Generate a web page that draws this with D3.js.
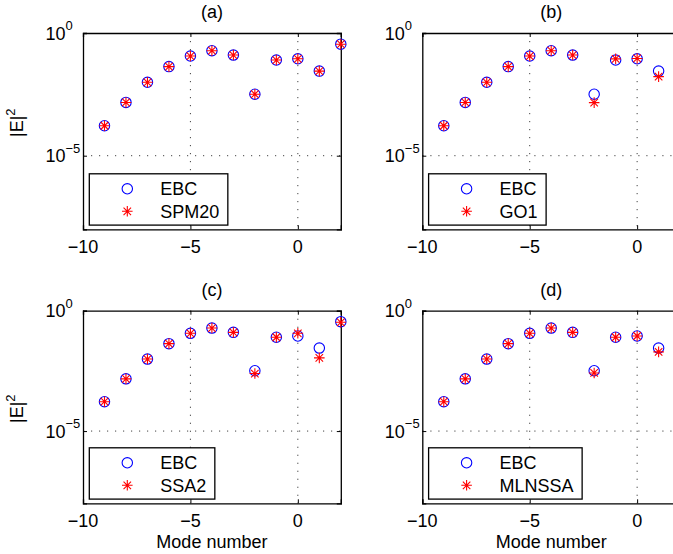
<!DOCTYPE html>
<html>
<head>
<meta charset="utf-8">
<script src="https://cdn.jsdelivr.net/npm/d3@7"></script>
<style>
  html, body { margin: 0; padding: 0; background: #fff; }
  svg { display: block; font-family: "Liberation Sans", Arial, Helvetica, sans-serif; }
</style>
</head>
<body>
<svg id="chart" width="673" height="554"></svg>
<script>
// ---- data ----
const modes   = [-9, -8, -7, -6, -5, -4, -3, -2, -1, 0, 1, 2];
const ebc     = [1.66e-4, 1.48e-3, 9.8e-3, 4.27e-2, 0.115, 0.19, 0.126, 3.2e-3, 0.079, 0.089, 0.028, 0.35];
const spm20   = [1.66e-4, 1.48e-3, 9.8e-3, 4.27e-2, 0.115, 0.19, 0.126, 3.2e-3, 0.079, 0.089, 0.028, 0.35];
const go1     = [1.66e-4, 1.48e-3, 9.8e-3, 4.27e-2, 0.115, 0.19, 0.126, 1.45e-3, 0.088, 0.092, 0.0166, 0.35];
const ssa2    = [1.66e-4, 1.48e-3, 9.8e-3, 4.27e-2, 0.115, 0.19, 0.126, 2.45e-3, 0.079, 0.115, 0.011, 0.33];
const mlnssa  = [1.66e-4, 1.48e-3, 9.8e-3, 4.27e-2, 0.115, 0.19, 0.126, 2.6e-3, 0.079, 0.089, 0.0195, 0.35];
const methodNames = ["SPM20", "GO1", "SSA2", "MLNSSA"];
const methodSeries = [spm20, go1, ssa2, mlnssa];
const titles = ["(a)", "(b)", "(c)", "(d)"];
const refName = "EBC";
const xTicks = [-10, -5, 0];
const xGrid = [-5, 0];
const yTicks = [{v: 1, exp: "0"}, {v: 1e-5, exp: "\u22125"}];
const yGrid = [1e-5];
const xLabel = "Mode number";

// ---- layout ----
const svg = d3.select("#chart");
const panels = [
  {left: 83,    top: 33,    bottom: 229.3, ylab: true,  xlab: false, labY: 137},
  {left: 422.3, top: 33,    bottom: 229.3, ylab: false, xlab: false},
  {left: 83,    top: 310.7, bottom: 503.3, ylab: true,  xlab: true,  labY: 423},
  {left: 422.3, top: 310.7, bottom: 503.3, ylab: false, xlab: true}
];
const plotW = 257.8;
const FS = 18;
const blue = "#0000ff", red = "#ff0000";

function star(g, cx, cy, r) {
  const d = r * Math.SQRT1_2;
  const p = `M${cx - r},${cy}L${cx + r},${cy}M${cx},${cy - r}L${cx},${cy + r}` +
            `M${cx - d},${cy - d}L${cx + d},${cy + d}M${cx - d},${cy + d}L${cx + d},${cy - d}`;
  g.append("path").attr("d", p).attr("stroke", red).attr("stroke-width", 1.1).attr("fill", "none");
}

panels.forEach((P, i) => {
  const x = d3.scaleLinear().domain([-10, 2]).range([P.left, P.left + plotW]);
  const y = d3.scaleLog().domain([1e-8, 1]).range([P.bottom, P.top]);
  const g = svg.append("g");

  // grid
  xGrid.forEach(v => g.append("line")
    .attr("x1", x(v)).attr("x2", x(v)).attr("y1", P.top).attr("y2", P.bottom)
    .attr("stroke", "#444").attr("stroke-width", 1).attr("stroke-dasharray", "1.2,6.8"));
  yGrid.forEach(v => g.append("line")
    .attr("x1", P.left).attr("x2", P.left + plotW).attr("y1", y(v)).attr("y2", y(v))
    .attr("stroke", "#444").attr("stroke-width", 1).attr("stroke-dasharray", "1.2,6.8"));

  // axes via d3 axis generators (ticks inward)
  const xa = d3.axisBottom(x).tickValues(xTicks).tickSize(-4).tickFormat("");
  const xt = d3.axisTop(x).tickValues(xTicks).tickSize(-4).tickFormat("");
  const ya = d3.axisLeft(y).tickValues(yTicks.map(t => t.v)).tickSize(-4).tickFormat("");
  const yr = d3.axisRight(y).tickValues(yTicks.map(t => t.v)).tickSize(-4).tickFormat("");
  [[xa, `translate(0,${P.bottom})`], [xt, `translate(0,${P.top})`],
   [ya, `translate(${P.left},0)`], [yr, `translate(${P.left + plotW},0)`]].forEach(([ax, tr]) => {
    const a = g.append("g").attr("transform", tr).call(ax);
    a.select(".domain").attr("stroke", "#000").attr("stroke-width", 1.3);
    a.selectAll(".tick line").attr("stroke", "#000").attr("stroke-width", 1);
  });

  // x tick labels
  xTicks.forEach(v => g.append("text")
    .attr("x", x(v)).attr("y", P.bottom + 24).attr("text-anchor", "middle")
    .attr("font-size", FS).attr("fill", "#000")
    .text(v < 0 ? "\u2212" + Math.abs(v) : String(v)));

  // y tick labels 10^n
  yTicks.forEach(t => {
    const tx = g.append("text").attr("x", P.left - 37.5).attr("y", y(t.v) + 6.5)
      .attr("font-size", FS).attr("fill", "#000");
    tx.append("tspan").text("10");
    tx.append("tspan").attr("dy", -9.5).attr("font-size", 13).text(t.exp);
  });

  // title
  g.append("text").attr("x", P.left + plotW / 2).attr("y", P.top - 15)
    .attr("text-anchor", "middle").attr("font-size", FS).text(titles[i]);

  // y label
  if (P.ylab) {
    const yl = g.append("text").attr("transform", `translate(23,${P.labY}) rotate(-90)`)
      .attr("font-size", FS).attr("fill", "#000");
    yl.append("tspan").text("|E|");
    yl.append("tspan").attr("dy", -8.5).attr("font-size", 13).text("2");
  }
  // x label
  if (P.xlab) {
    g.append("text").attr("x", P.left + plotW / 2).attr("y", P.bottom + 44.5)
      .attr("text-anchor", "middle").attr("font-size", FS).text(xLabel);
  }

  // markers
  const series = methodSeries[i];
  modes.forEach((m, k) => {
    g.append("circle").attr("cx", x(m)).attr("cy", y(ebc[k])).attr("r", 5.2)
      .attr("fill", "none").attr("stroke", blue).attr("stroke-width", 1.1);
  });
  modes.forEach((m, k) => star(g, x(m), y(series[k]), 5.3));

  // legend
  const lx = P.left + 6.3, ly = P.bottom - 55.5;
  const lg = g.append("g");
  const box = lg.append("rect").attr("x", lx).attr("y", ly).attr("height", 51.3)
    .attr("fill", "#fff").attr("stroke", "#000").attr("stroke-width", 1.3);
  lg.append("circle").attr("cx", lx + 38).attr("cy", ly + 15).attr("r", 5.2)
    .attr("fill", "none").attr("stroke", blue).attr("stroke-width", 1.1);
  star(lg, lx + 38, ly + 37.5, 5.3);
  lg.append("text").attr("x", lx + 71).attr("y", ly + 21.5).attr("font-size", FS).text(refName);
  const t2 = lg.append("text").attr("x", lx + 71).attr("y", ly + 44.5).attr("font-size", FS).text(methodNames[i]);
  const w = t2.node().getComputedTextLength();
  box.attr("width", 71 + w + 8.5);
});
</script>
</body>
</html>
